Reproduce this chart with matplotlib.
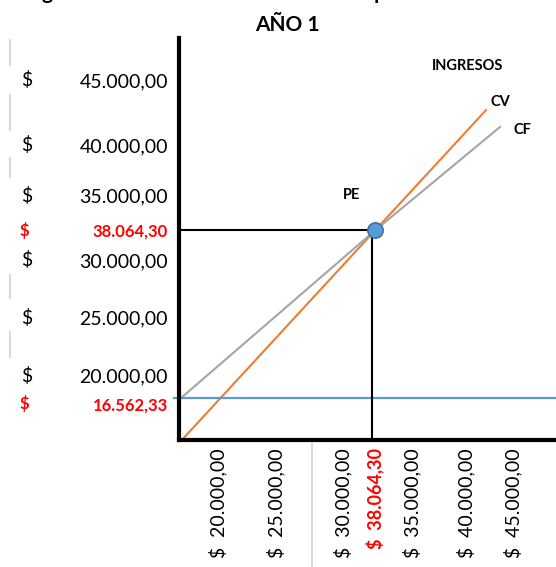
import matplotlib.pyplot as plt
import matplotlib.transforms as mtransforms
from matplotlib.lines import Line2D

plt.rcParams['font.family'] = ['Lato', 'DejaVu Sans']

# valores del punto de equilibrio (año 1)
punto_equilibrio = 38064.30
costo_fijo = 16562.33

# rectas del grafico: ventas vs monto
ventas_cv = [11240, punto_equilibrio, 53550]
monto_cv = [11240, punto_equilibrio, 53550]
ventas_cf = [10724, punto_equilibrio, 55500]
monto_cf = [16300, punto_equilibrio, 51380]

# etiquetas de los ejes (como en la hoja original, no van a escala)
etiquetas = ['20.000,00', '25.000,00', '30.000,00', '35.000,00', '40.000,00', '45.000,00']
etiqueta_pe = '38.064,30'
etiqueta_cf = '16.562,33'
pos_x = [16206, 24254, 33642, 43267, 50757, 57355]
pos_y = [19391, 26850, 34270, 42539, 49059, 57418]
pos_y_cf = 15752

fig = plt.figure(figsize=(5.56, 5.67), dpi=100)
ax = fig.add_axes([179 / 556, 127 / 567, 377 / 556, 402 / 567])
ax.set_xlim(10724, 63312)
ax.set_ylim(11122, 62820)

for lado in ['top', 'right']:
    ax.spines[lado].set_visible(False)
for lado in ['left', 'bottom']:
    ax.spines[lado].set_linewidth(3)
    ax.spines[lado].set_color('black')

# lineas
ax.plot(ventas_cv, monto_cv, color='#ED7D31', lw=1.5)
ax.plot(ventas_cf, monto_cf, color='#A5A5A5', lw=1.5)
ax.axhline(costo_fijo, xmin=-0.013, xmax=1, color='#5B9BD5', lw=1.6, clip_on=False)
ax.hlines(punto_equilibrio, ax.get_xlim()[0], punto_equilibrio, color='black', lw=1.5)
ax.vlines(punto_equilibrio - 400, ax.get_ylim()[0], punto_equilibrio, color='black', lw=1.5)
ax.plot(punto_equilibrio, punto_equilibrio, 'o', ms=11, mfc='#5B9BD5', mec='#41719C', mew=1.2, zorder=5)

# textos sobre el grafico
ax.annotate('CV', xy=(ventas_cv[-1], monto_cv[-1]), xytext=(14, 8), textcoords='offset pixels',
            ha='center', va='center', fontsize=10.5, fontweight='bold')
ax.annotate('CF', xy=(ventas_cf[-1], monto_cf[-1]), xytext=(22, -3), textcoords='offset pixels',
            ha='center', va='center', fontsize=10.5, fontweight='bold')
ax.annotate('INGRESOS', xy=(ventas_cv[-1], monto_cv[-1]), xytext=(-18, 44), textcoords='offset pixels',
            ha='center', va='center', fontsize=10.5, fontweight='bold')
ax.annotate('PE', xy=(punto_equilibrio, punto_equilibrio), xytext=(-23, 35), textcoords='offset pixels',
            ha='center', va='center', fontsize=10.5, fontweight='bold')

# eje x
ax.set_xticks(pos_x + [punto_equilibrio], ['$  ' + e for e in etiquetas] + ['$  ' + etiqueta_pe],
              rotation=90, fontsize=14)
lx = ax.get_xticklabels()[-1]
lx.set_color('red')
lx.set_fontweight('bold')
lx.set_fontsize(13)
ax.tick_params(axis='x', length=0, pad=6)

# eje y (el signo $ va aparte, alineado a la izquierda)
ax.set_yticks(pos_y + [punto_equilibrio, pos_y_cf], etiquetas + [etiqueta_pe, etiqueta_cf], fontsize=14)
for lab in ax.get_yticklabels()[-2:]:
    lab.set_color('red')
    lab.set_fontweight('bold')
    lab.set_fontsize(12)
ax.tick_params(axis='y', length=0, pad=8)

trans = mtransforms.blended_transform_factory(fig.transFigure, ax.transData)
for y in pos_y:
    ax.text(21 / 556, y, '$', transform=trans, ha='left', va='center', fontsize=14)
for y in [punto_equilibrio, pos_y_cf]:
    ax.text(19 / 556, y, '$', transform=trans, ha='left', va='center', fontsize=12,
            color='red', fontweight='bold')

# titulo y restos de la hoja
fig.text(287 / 556, 1 - 25 / 567, 'AÑO 1', ha='center', va='center', fontsize=15, fontweight='bold')
fig.text(25 / 556, 1 + 1 / 567, 'Figura 3. Análisis del modelo sobre el punto muerto', fontsize=15,
         fontweight='bold', va='baseline')

bordes = [(40, 65), (95, 130), (158, 177), (275, 298), (332, 357)]
for y0, y1 in bordes:
    fig.add_artist(Line2D([10 / 556, 10 / 556], [1 - y0 / 567, 1 - y1 / 567], color='#D9D9D9', lw=1.5))
fig.add_artist(Line2D([312 / 556, 312 / 556], [1 - 443 / 567, 0], color='#D9D9D9', lw=1.5))

fig.savefig('out.png', dpi=100)
